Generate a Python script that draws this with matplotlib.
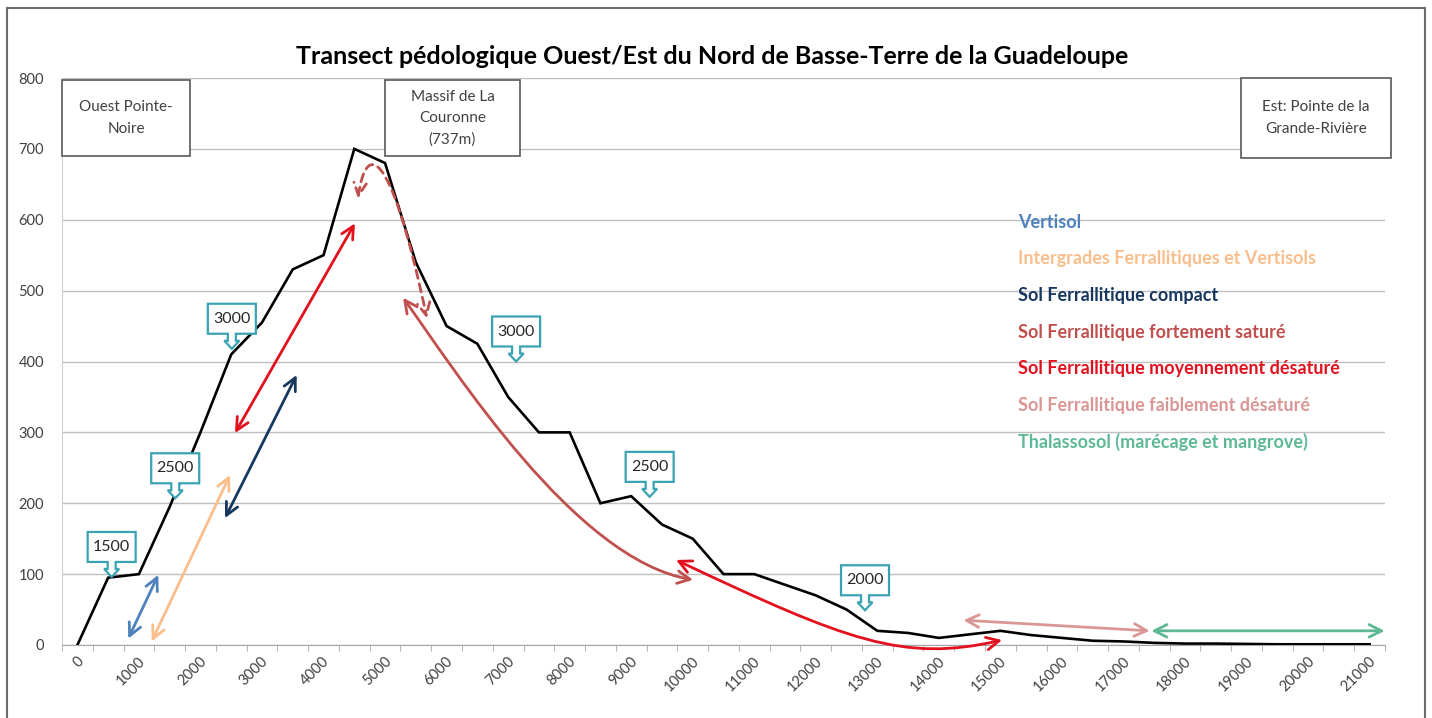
import matplotlib
matplotlib.use("Agg")
import matplotlib.pyplot as plt
from matplotlib.patches import FancyArrowPatch, Rectangle, Polygon
from matplotlib.lines import Line2D
from matplotlib.path import Path
from matplotlib import transforms

plt.rcParams['font.family'] = ['Lato', 'DejaVu Sans']

# transect: distance (m) and elevation (m)
distance = list(range(0, 21001, 500))
elevation = [0, 95, 100, 195, 300, 410, 455, 530, 550, 700,
             680, 540, 450, 425, 350, 300, 300, 200, 210, 170,
             150, 100, 100, 85, 70, 50, 20, 17, 10, 15,
             20, 14, 10, 6, 5, 3, 2, 2, 1.5, 1, 1, 1, 1]

# rainfall callouts (mm) and where they point
callout_labels = ["1500", "2500", "3000", "3000", "2500", "2000"]
callout_x = [557, 1590, 2510, 7130, 9300, 12800]
callout_y = [96, 207, 418, 400, 209, 49]

# soil types (legend) and colours
soils = ["Vertisol",
         "Intergrades Ferrallitiques et Vertisols",
         "Sol Ferrallitique compact",
         "Sol Ferrallitique fortement saturé",
         "Sol Ferrallitique moyennement désaturé",
         "Sol Ferrallitique faiblement désaturé",
         "Thalassosol (marécage et mangrove)"]
soil_colors = ["#4F81BD", "#F9BE8C", "#17375E", "#C0504D",
               "#E3101E", "#D99694", "#5DB894"]

# straight double arrows: (x0, y0, x1, y1, soil index)
straight_arrows = [(827, 9, 1315, 99, 0),
                   (1208, 5, 2480, 240, 1),
                   (2399, 179, 3564, 381, 2),
                   (2561, 299, 4511, 595, 4),
                   (14398, 35, 17427, 20, 5),
                   (17453, 20, 21245, 20, 6)]

# curved double arrows: cubic bezier control points, soil index, dashed
curved_arrows = [([(4560, 630), (4680, 705), (5060, 715), (5680, 461)], 3, True),
                 ([(5292, 490), (6137, 388), (8087, 120), (10005, 92)], 3, False),
                 ([(9728, 120), (12508, 6), (13418, -25), (15027, 7)], 4, False)]

W, H = 1432, 718
fig = plt.figure(figsize=(W / 100, H / 100), dpi=100)
ax = fig.add_axes([62 / W, 1 - 645 / H, (1385 - 62) / W, (645 - 78) / H])

ax.plot(distance, elevation, color="black", lw=1.9, zorder=3, solid_joinstyle="miter")

ax.set_xlim(-250, 21250)
ax.set_ylim(0, 800)
ax.set_yticks(range(0, 801, 100))
ax.set_xticks(range(0, 21001, 1000))
ax.set_xticks(range(-250, 21251, 500), minor=True)
ax.yaxis.grid(True, color="#BFBFBF", lw=1.0)
ax.set_axisbelow(True)
for s in ["top", "right"]:
    ax.spines[s].set_visible(False)
ax.spines["left"].set_color("#D0D0D0")
ax.spines["bottom"].set_color("#A6A6A6")
ax.tick_params(axis="y", length=0, pad=13, labelsize=10.5, labelcolor="#404040")
ax.tick_params(axis="x", which="major", length=0, pad=10, labelsize=10.5, labelcolor="#404040")
ax.tick_params(axis="x", which="minor", length=4, color="#A6A6A6")
offset = transforms.ScaledTranslation(4 / 100, 0, fig.dpi_scale_trans)
for lab in ax.get_xticklabels():
    lab.set_rotation(45)
    lab.set_ha("right")
    lab.set_va("center")
    lab.set_rotation_mode("anchor")
    lab.set_transform(lab.get_transform() + offset)

# arrows
for x0, y0, x1, y1, k in straight_arrows:
    ax.add_patch(FancyArrowPatch((x0, y0), (x1, y1), arrowstyle="<->,head_length=0.9,head_width=0.45",
                                 mutation_scale=10, color=soil_colors[k], lw=2, zorder=4,
                                 shrinkA=0, shrinkB=0, clip_on=False))
for pts, k, dashed in curved_arrows:
    path = Path(pts, [Path.MOVETO, Path.CURVE4, Path.CURVE4, Path.CURVE4])
    ax.add_patch(FancyArrowPatch(path=path, arrowstyle="<->,head_length=0.9,head_width=0.45",
                                 mutation_scale=10, color=soil_colors[k], lw=2, zorder=4,
                                 linestyle=(0, (3, 2)) if dashed else "-", clip_on=False))

# callouts (down-arrow callout shape, px offsets from the tip)
shape = [(0, 0), (7.5, 8), (4, 8), (4, 15), (24, 15), (24, 45), (-24, 45),
         (-24, 15), (-4, 15), (-4, 8), (-7.5, 8)]
for lab, cx, cy in zip(callout_labels, callout_x, callout_y):
    tr = fig.dpi_scale_trans + transforms.ScaledTranslation(cx, cy, ax.transData)
    ax.add_patch(Polygon([(a / 100, b / 100) for a, b in shape], closed=True, transform=tr,
                         facecolor="white", edgecolor="#3AA3B3", lw=1.6, zorder=5, clip_on=False))
    ax.text(0, 0.30, lab, transform=tr, ha="center", va="center", fontsize=11.5,
            color="#262626", zorder=6)

# location boxes
def fig_box(x0, y0, x1, y1, text):
    fig.add_artist(Rectangle((x0 / W, 1 - y1 / H), (x1 - x0) / W, (y1 - y0) / H,
                             transform=fig.transFigure, facecolor="white",
                             edgecolor="#595959", lw=1.2, zorder=2))
    fig.text((x0 + x1) / 2 / W, 1 - (y0 + y1) / 2 / H, text, ha="center", va="center",
             fontsize=11, color="#404040", linespacing=1.65, zorder=3)

fig_box(62, 80, 190, 156, "Ouest Pointe-\nNoire")
fig_box(385, 80, 520, 156, "Massif de La\nCouronne\n(737m)")
fig_box(1241, 78, 1391, 158, "Est: Pointe de la\nGrande-Rivière")

# legend texts
for i, (name, col) in enumerate(zip(soils, soil_colors)):
    fig.text(1018 / W, 1 - (222 + i * 36.7) / H, name, ha="left", va="center",
             fontsize=13, fontweight="bold", color=col)

fig.text(712 / W, 1 - 57 / H, "Transect pédologique Ouest/Est du Nord de Basse-Terre de la Guadeloupe",
         ha="center", va="center", fontsize=18, fontweight="bold", color="black")

# outer frame
for xs, ys in [([7, 7], [8, 740]), ([7, 1425], [8, 8]), ([1425, 1425], [8, 740])]:
    fig.add_artist(Line2D([x / W for x in xs], [1 - y / H for y in ys], transform=fig.transFigure,
                          color="#6E6E6E", lw=1.5))

fig.savefig("out.png", dpi=100)
